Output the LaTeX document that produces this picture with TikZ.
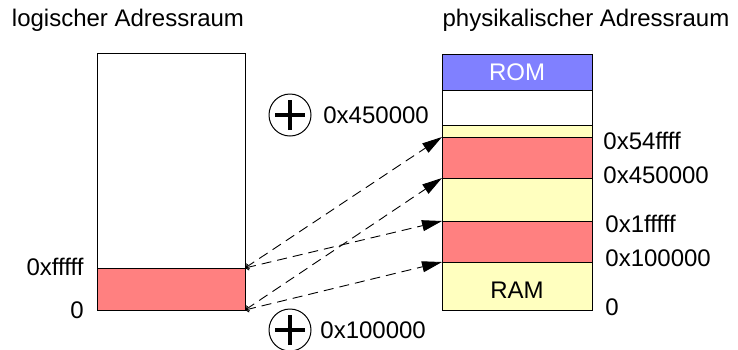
\documentclass[tikz,border=0pt]{standalone}
\usepackage{fontspec}
\setmainfont{Liberation Sans}
\usetikzlibrary{
	shapes,
	calc,
	arrows.meta}

\definecolor{memred}{HTML}{FF8080}
\definecolor{memyellow}{HTML}{FFFFBF}
\definecolor{memblue}{HTML}{8080FF}

\tikzset{
  cell/.style={draw, line width=0.5pt, inner sep=0pt, outer sep=0pt,
    anchor=north west, rectangle},
  addr/.style={inner sep=0pt, font=\fontsize{12}{14}\selectfont},
  mapping/.style={dashed, dash pattern=on 5pt off 3pt, line width=0.45pt,
    {Straight Barb[length=1.5pt,width=3pt]}-{Triangle[length=10pt,width=5.5pt]}},
  plusnode/.style={draw, circle, line width=0.5pt, minimum size=21pt,
    inner sep=0pt,
    path picture={
      \draw[line width=2.3pt] ($(path picture bounding box.center)+(-7.5pt,0)$) -- +(15pt,0);
      \draw[line width=2.3pt] ($(path picture bounding box.center)+(0,-7.5pt)$) -- +(0,15pt);}}
}

\begin{document}
\begin{tikzpicture}[x=0.5pt,y=-0.5pt]
    \useasboundingbox (0,0) rectangle (738,349);

    % logischer Adressraum
    \node[addr] (TL) at (128,20) {logischer Adressraum};
    \node[cell, fill=white, minimum width=74pt, minimum height=107.5pt] (L1) at (97,53) {};
    \node[cell, fill=memred, minimum width=74pt, minimum height=21pt] (L0) at (97,268) {};
    \node[addr, anchor=east] (LA1) at (84,267) {0xfffff};
    \node[addr, anchor=east] (LA0) at (84,310) {0};

    % physikalischer Adressraum
    \node[addr] (TR) at (586,20) {physikalischer Adressraum};
    \node[cell, fill=memblue, minimum width=75pt, minimum height=18pt] (ROM) at (442,54) {};
    \node[addr, text=white] (ROMtext) at (ROM.center) {ROM};
    \node[cell, fill=white, minimum width=75pt, minimum height=17.5pt] (R6) at (442,90) {};
    \node[cell, fill=memyellow, minimum width=75pt, minimum height=6pt] (R5) at (442,125) {};
    \node[cell, fill=memred, minimum width=75pt, minimum height=20.5pt] (R4) at (442,137) {};
    \node[cell, fill=memyellow, minimum width=75pt, minimum height=21.5pt] (R3) at (442,178) {};
    \node[cell, fill=memred, minimum width=75pt, minimum height=20.5pt] (R2) at (442,221) {};
    \node[cell, fill=memyellow, minimum width=75pt, minimum height=24pt] (RAM) at (442,262) {};
    \node[addr] (RAMtext) at ($(RAM.center)+(0,4)$) {RAM};

    \node[addr, anchor=west] (RA4) at (603,141) {0x54ffff};
    \node[addr, anchor=west] (RA3) at (603,175) {0x450000};
    \node[addr, anchor=west] (RA2) at (605,224) {0x1fffff};
    \node[addr, anchor=west] (RA1) at (605,258) {0x100000};
    \node[addr, anchor=west] (RA0) at (605,307) {0};

    % Offsets
    \node[plusnode] (P1) at (290,115) {};
    \node[addr, anchor=west] (O1) at (323,115) {0x450000};
    \node[plusnode] (P0) at (290,330) {};
    \node[addr, anchor=west] (O0) at (320,330) {0x100000};

    \draw [mapping] (L0.north east) to (R4.north west);
    \draw [mapping] (L0.south east) to (R3.north west);
    \draw [mapping] (L0.north east) to (R2.north west);
    \draw [mapping] (L0.south east) to (RAM.north west);
  \end{tikzpicture}
\end{document}
